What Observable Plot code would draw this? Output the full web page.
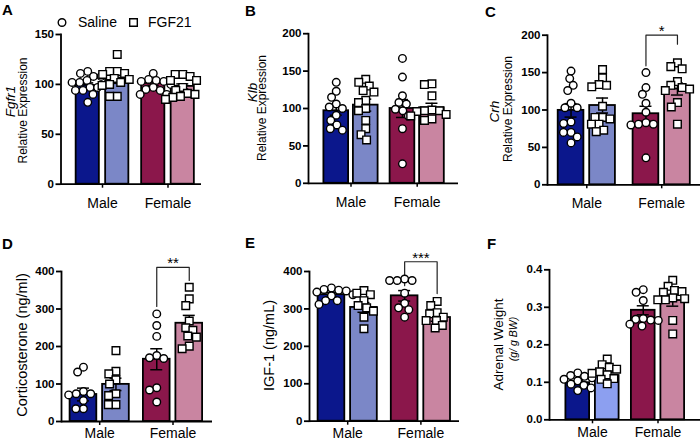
<!DOCTYPE html>
<html><head><meta charset="utf-8">
<script src="https://cdn.jsdelivr.net/npm/d3@7"></script>
<script src="https://cdn.jsdelivr.net/npm/@observablehq/plot@0.6"></script>
<style>
html,body{margin:0;padding:0;background:#fff;}
#fig{position:relative;width:700px;height:444px;overflow:hidden;font-family:"Liberation Sans",Arial,sans-serif;color:#000;}
#fig .panel{position:absolute;}
#fig .txt{position:absolute;white-space:nowrap;line-height:1;}
</style></head>
<body><div id="fig"></div>
<script>
// ---------- data ----------
const sexes = ["Male", "Female"];
const treatments = ["Saline", "FGF21"];
// groups order: Male-Saline, Male-FGF21, Female-Saline, Female-FGF21

const fgfr1Points = [
  [113, 111, 108, 108, 104, 102, 102, 97, 97, 94, 94, 90, 82],
  [130, 113, 113, 111, 110, 106, 105, 102, 100, 99, 88, 88],
  [111, 105, 104, 103, 103, 100, 97, 95, 94, 90, 90],
  [110, 110, 108, 104, 104, 97, 94, 91, 90, 88, 87, 85]
];
const fgfr1Mean = [99, 104, 101, 98];
const fgfr1Sem = [2.5, 3, 2, 2.5];

const klbPoints = [
  [135, 123, 115, 106, 102, 100, 91, 84, 78, 73, 71],
  [139, 135, 130, 124, 122, 111, 108, 100, 97, 84, 73, 65, 58],
  [167, 142, 117, 108, 106, 99, 97, 90, 73, 26],
  [133, 132, 117, 98, 97, 97, 96, 92, 90, 86, 84]
];
const klbMean = [97, 104.5, 100, 101];
const klbSem = [6, 8, 12, 6];

const crhPoints = [
  [152, 142, 133, 126, 109, 103, 103, 84, 82, 70, 70, 64, 56],
  [154, 143, 134, 133, 131, 105, 90, 90, 88, 81, 81, 73, 71],
  [150, 130, 121, 109, 97, 83, 81, 81, 80, 36],
  [163, 158, 155, 138, 133, 130, 128, 126, 110, 104, 81]
];
const crhMean = [99.5, 106, 95, 128];
const crhSem = [9, 10, 10, 8];
const crhBracket = [159, 200, 188];
const crhStars = "*";

const cortPoints = [
  [145, 132, 80, 74, 74, 71, 56, 34, 34],
  [189, 134, 127, 111, 100, 74, 69, 45, 45],
  [287, 256, 227, 176, 170, 168, 90, 84, 52],
  [358, 327, 309, 268, 250, 243, 228, 225, 201, 194]
];
const cortMean = [72, 99, 166, 262];
const cortSem = [17, 16.5, 28, 21];
const cortBracket = [307, 411, 376];
const cortStars = "**";

const igfPoints = [
  [356, 352, 350, 348, 345, 338, 335, 322, 322, 312],
  [349, 342, 338, 322, 309, 303, 294, 278, 247],
  [380, 376, 376, 376, 342, 315, 303, 298, 278],
  [320, 309, 290, 287, 278, 269, 269, 256, 249]
];
const igfMean = [338, 304, 335, 277];
const igfSem = [6, 13, 14, 10];
const igfBracket = [362, 426, 341];
const igfStars = "***";

const adrenalPoints = [
  [0.125, 0.118, 0.116, 0.112, 0.108, 0.104, 0.095, 0.092, 0.085, 0.078],
  [0.162, 0.147, 0.140, 0.135, 0.128, 0.124, 0.120, 0.110, 0.108, 0.096],
  [0.347, 0.340, 0.318, 0.268, 0.266, 0.270, 0.265, 0.255, 0.250],
  [0.372, 0.356, 0.345, 0.342, 0.340, 0.325, 0.323, 0.320, 0.320, 0.265, 0.229]
];
const adrenalMean = [0.099, 0.118, 0.292, 0.318];
const adrenalSem = [0.005, 0.008, 0.012, 0.015];

const ticks150 = [0, 50, 100, 150];
const ticks200 = [0, 50, 100, 150, 200];
const ticks400 = [0, 100, 200, 300, 400];
const ticksAdrenal = [0, 0.1, 0.2, 0.3, 0.4];

// ---------- styles / layout ----------
const colorsMain = ["#0b178c", "#7b87c7", "#8b174b", "#c985a1"];
const colorsF = ["#0b178c", "#8c9ff0", "#8b174b", "#c985a1"];
const FONT = "'Liberation Sans', Arial, sans-serif";

const panels = [
  {letter: "A", lx: 2, lb: 15, points: fgfr1Points, mean: fgfr1Mean, sem: fgfr1Sem, colors: colorsMain,
   y: [0, 150], ticks: ticks150, fmt: d3.format("d"), xPad: 9.5,
   L: {left: 0, top: 0, width: 230, axisX: 60.5, end: 201, c1: 102, c2: 167.5, bw: 54.5, gap: 4.5, yTop: 34, y0: 183.7},
   labels: [{t: "Fgfr1", x: 10, y: 101, size: 13.5, italic: true}, {t: "Relative Expression", x: 22.5, y: 110, size: 12}]},
  {letter: "B", lx: 245, lb: 16, points: klbPoints, mean: klbMean, sem: klbSem, colors: colorsMain,
   y: [0, 200], ticks: ticks200, fmt: d3.format("d"), xPad: 9.5,
   L: {left: 230, top: 0, width: 230, axisX: 308, end: 458, c1: 350.5, c2: 416.7, bw: 56, gap: 3, yTop: 33.2, y0: 182.8},
   labels: [{t: "Klb", x: 252.5, y: 92, size: 13.5, italic: true}, {t: "Relative Expression", x: 262, y: 107.5, size: 12}]},
  {letter: "C", lx: 485, lb: 17, points: crhPoints, mean: crhMean, sem: crhSem, colors: colorsMain,
   y: [0, 200], ticks: ticks200, fmt: d3.format("d"), xPad: 9.5, bracket: crhBracket, stars: crhStars,
   L: {left: 460, top: 0, width: 240, axisX: 547, end: 700, c1: 586.3, c2: 661.2, bw: 59, gap: 4, yTop: 34.7, y0: 184.3},
   labels: [{t: "Crh", x: 494.5, y: 111, size: 13.5, italic: true}, {t: "Relative Expression", x: 508, y: 108.5, size: 12}]},
  {letter: "D", lx: 2, lb: 249, points: cortPoints, mean: cortMean, sem: cortSem, colors: colorsMain,
   y: [0, 400], ticks: ticks400, fmt: d3.format("d"), xPad: 3, bracket: cortBracket, stars: cortStars,
   L: {left: 0, top: 222, width: 230, axisX: 61, end: 212, c1: 99.2, c2: 172.5, bw: 61, gap: 4, yTop: 271, y0: 421},
   labels: [{t: "Corticosterone (ng/ml)", x: 21.5, y: 344.5, size: 14.5}]},
  {letter: "E", lx: 245, lb: 248, points: igfPoints, mean: igfMean, sem: igfSem, colors: colorsMain,
   y: [0, 400], ticks: ticks400, fmt: d3.format("d"), xPad: 3, bracket: igfBracket, stars: igfStars,
   L: {left: 230, top: 222, width: 230, axisX: 309, end: 459, c1: 347.2, c2: 420.4, bw: 61, gap: 4, yTop: 271, y0: 420.7},
   labels: [{t: "IGF-1 (ng/mL)", x: 269, y: 345, size: 14.5}]},
  {letter: "F", lx: 487, lb: 249, points: adrenalPoints, mean: adrenalMean, sem: adrenalSem, colors: colorsF,
   y: [0, 0.4], ticks: ticksAdrenal, fmt: d3.format(".1f"), xPad: 3,
   L: {left: 460, top: 222, width: 240, axisX: 549, end: 700, c1: 592, c2: 657.5, bw: 55, gap: 4, yTop: 269.3, y0: 419.3},
   labels: [{t: "Adrenal Weight", x: 498, y: 344, size: 13.5}, {t: "(g/ g BW)", x: 513.5, y: 338.5, size: 10.5, italic: true}]}
];

// ---------- helpers ----------
// beeswarm-style spreading of points around each bar centre (pixel space)
function swarm(diam) {
  return (data, facets, channels, scales) => {
    const XV = channels.x.value, YV = channels.y.value;
    const n = XV.length;
    const X = new Float64Array(n), Y = new Float64Array(n);
    for (const I of facets) {
      const bySlot = d3.group(I, i => XV[i]);
      for (const [slot, idx] of bySlot) {
        const cx = scales.x(slot);
        const placed = [];
        const order = Array.from(idx).sort((a, b) => YV[b] - YV[a]);
        for (const i of order) {
          const py = scales.y(YV[i]);
          const cands = [0];
          for (const p of placed) {
            const dy = Math.abs(p.y - py);
            if (dy < diam) {
              const dx = Math.sqrt(diam * diam - dy * dy);
              cands.push(p.x - dx, p.x + dx);
            }
          }
          cands.sort((a, b) => Math.abs(a) - Math.abs(b) || a - b);
          let off = 0;
          for (const c of cands) {
            if (placed.every(p => (p.x - c) ** 2 + (p.y - py) ** 2 >= diam * diam - 1e-6)) { off = c; break; }
          }
          placed.push({x: off, y: py});
          X[i] = cx + off;
          Y[i] = py;
        }
      }
    }
    return {data, facets, channels: {x: {value: X}, y: {value: Y}}};
  };
}

const fig = document.getElementById("fig");
function addText(t, x, baseline, size, opts = {}) {
  const d = document.createElement("div");
  d.className = "txt";
  d.textContent = t;
  d.style.left = x + "px";
  d.style.top = (baseline - 0.8465 * size) + "px";
  d.style.fontSize = size + "px";
  if (opts.bold) d.style.fontWeight = "bold";
  fig.appendChild(d);
}

function makePanel(cfg) {
  const L = cfg.L, H = 222, sw = 1.8;
  const k = 1 / (L.c2 - L.c1);
  const off = (L.bw + L.gap) / 4 * k;
  const half = ((L.bw - L.gap) / 4 - sw / 2) * k;
  const cap = 6 * k;
  const slotOf = g => (g >> 1) + ((g & 1) ? off : -off);
  const bars = cfg.mean.map((m, g) => ({slot: slotOf(g), mean: m, sem: cfg.sem[g], fill: cfg.colors[g]}));
  const pts = cfg.points.flatMap((arr, g) => arr.map(v => ({slot: slotOf(g), value: v, treat: treatments[g & 1]})));
  const midY = (L.yTop + L.y0) / 2;

  const marks = [];
  for (const b of bars) {
    marks.push(Plot.rect([b], {x1: d => d.slot - half, x2: d => d.slot + half, y1: () => 0, y2: "mean",
      fill: b.fill, stroke: "black", strokeWidth: sw}));
  }
  marks.push(
    Plot.ruleX(bars, {x: "slot", y1: d => d.mean - d.sem, y2: d => d.mean + d.sem, stroke: "black", strokeWidth: 1.5}),
    Plot.ruleY(bars, {x1: d => d.slot - cap, x2: d => d.slot + cap, y: d => d.mean + d.sem, stroke: "black", strokeWidth: 1.5}),
    Plot.ruleY(bars, {x1: d => d.slot - cap, x2: d => d.slot + cap, y: d => d.mean - d.sem, stroke: "black", strokeWidth: 1.5}),
    Plot.ruleY([0], {stroke: "black", strokeWidth: sw}),
    Plot.frame({anchor: "left", stroke: "black", strokeWidth: sw}),
    Plot.axisY({ticks: cfg.ticks, tickFormat: cfg.fmt, tickSize: 5, tickPadding: 2, fontSize: 11.5, fontWeight: "bold", strokeWidth: sw, label: null}),
    Plot.axisX({ticks: [0, 1], tickFormat: i => sexes[i], tickSize: 4, tickPadding: cfg.xPad, fontSize: 14, strokeWidth: 1.5, label: null})
  );
  for (const lab of cfg.labels) {
    marks.push(Plot.text([lab.t], {text: d => d, frameAnchor: "left", dx: lab.x - L.axisX, dy: lab.y - midY,
      rotate: -90, textAnchor: "middle", lineAnchor: "middle", fontSize: lab.size, fontStyle: lab.italic ? "italic" : "normal"}));
  }
  if (cfg.bracket) {
    const [leftV, topV, rightV] = cfg.bracket;
    const s1 = slotOf(2), s2 = slotOf(3);
    const br = [{s: s1, v: leftV}, {s: s1, v: topV}, {s: s2, v: topV}, {s: s2, v: rightV}];
    marks.push(
      Plot.line(br, {x: "s", y: "v", stroke: "#222", strokeWidth: 1.2}),
      Plot.text([cfg.stars], {text: d => d, x: () => (s1 + s2) / 2, y: () => topV, lineAnchor: "bottom", dy: 1, fontSize: 15})
    );
  }
  marks.push(
    Plot.dot(pts.filter(d => d.treat === "Saline"), {x: "slot", y: "value", r: 3.8, symbol: "circle",
      fill: "white", stroke: "black", strokeWidth: 1.4, initializer: swarm(7.6)}),
    Plot.dot(pts.filter(d => d.treat === "FGF21"), {x: "slot", y: "value", r: 4.3, symbol: "square",
      fill: "white", stroke: "black", strokeWidth: 1.4, initializer: swarm(7.6)})
  );

  const svg = Plot.plot({
    width: L.width, height: H,
    marginLeft: L.axisX - L.left, marginRight: L.left + L.width - L.end,
    marginTop: L.yTop - L.top, marginBottom: L.top + H - L.y0,
    x: {domain: [0, 1], range: [L.c1 - L.left, L.c2 - L.left]},
    y: {domain: cfg.y},
    style: {fontFamily: FONT, fontSize: "12px", overflow: "visible", background: "transparent", color: "black"},
    marks
  });
  const wrap = document.createElement("div");
  wrap.className = "panel";
  wrap.style.left = L.left + "px";
  wrap.style.top = L.top + "px";
  wrap.style.width = L.width + "px";
  wrap.style.height = H + "px";
  wrap.appendChild(svg);
  fig.appendChild(wrap);
  addText(cfg.letter, cfg.lx, cfg.lb, 15, {bold: true});
}

panels.forEach(makePanel);

// legend (panel A)
const leg = document.createElementNS("http://www.w3.org/2000/svg", "svg");
leg.setAttribute("width", 700); leg.setAttribute("height", 40);
leg.style.position = "absolute"; leg.style.left = "0px"; leg.style.top = "0px";
const legSym = d3.select(leg);
legSym.append("path").attr("d", d3.symbol(d3.symbolCircle, Math.PI * 3.8 * 3.8)()).attr("transform", "translate(62,22.5)")
  .attr("fill", "white").attr("stroke", "black").attr("stroke-width", 1.4);
legSym.append("path").attr("d", d3.symbol(d3.symbolSquare, Math.PI * 4.3 * 4.3)()).attr("transform", "translate(133.5,22.5)")
  .attr("fill", "white").attr("stroke", "black").attr("stroke-width", 1.4);
fig.appendChild(leg);
addText(treatments[0], 78, 26.5, 14);
addText(treatments[1], 148, 26.5, 14);
</script>
</body></html>
